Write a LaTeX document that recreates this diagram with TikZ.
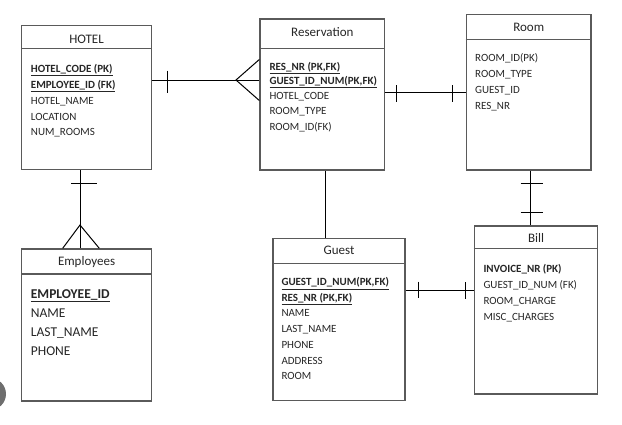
\documentclass[tikz,border=0pt]{standalone}
\usepackage{fontspec}
\setmainfont{Carlito}
\usetikzlibrary{calc}

\definecolor{boxgray}{HTML}{5A5A5A}
\definecolor{textcol}{HTML}{262626}
\definecolor{blobgray}{HTML}{6E6E6E}

\tikzset{
  entity/.style={draw=boxgray, line width=1.4pt, inner sep=0pt, anchor=north west},
  divider/.style={draw=boxgray, line width=1.4pt},
  title/.style={font=\fontsize{13}{15}\selectfont, anchor=base, inner sep=0pt, text=textcol},
  attr/.style={font=\fontsize{11}{13}\selectfont, anchor=base west, inner sep=0pt, text=textcol},
  bigattr/.style={font=\fontsize{13.5}{16}\selectfont, anchor=base west, inner sep=0pt, text=textcol},
  link/.style={draw=black, line width=1pt},
}
\newcommand{\keyattr}[1]{\underline{\textbf{#1}}}

\begin{document}
\begin{tikzpicture}[x=1pt, y=-1pt]
\useasboundingbox (0,0) rectangle (622,424);

% ---------- entity boxes ----------
\node[entity, minimum width=129.7pt, minimum height=144pt] (hotel) at (21,25) {};
\node[entity, minimum width=124.7pt, minimum height=151pt] (res) at (259.3,18.3) {};
\node[entity, minimum width=124.6pt, minimum height=155.3pt] (room) at (465.7,14) {};
\node[entity, minimum width=129.7pt, minimum height=152pt] (emp) at (21,248.3) {};
\node[entity, minimum width=132pt, minimum height=162.3pt] (guest) at (272.3,237.7) {};
\node[entity, minimum width=123.3pt, minimum height=168pt] (bill) at (473.7,225.3) {};

% header dividers
\draw[divider] ($(hotel.north west)+(0,23.3)$) -- ($(hotel.north east)+(0,23.3)$);
\draw[divider] ($(res.north west)+(0,30)$) -- ($(res.north east)+(0,30)$);
\draw[divider] ($(room.north west)+(0,25.3)$) -- ($(room.north east)+(0,25.3)$);
\draw[divider] ($(emp.north west)+(0,25.7)$) -- ($(emp.north east)+(0,25.7)$);
\draw[divider] ($(guest.north west)+(0,26)$) -- ($(guest.north east)+(0,26)$);
\draw[divider] ($(bill.north west)+(0,23.4)$) -- ($(bill.north east)+(0,23.4)$);

% ---------- titles ----------
\node[title] (hotel-t) at ($(hotel.north)+(0,18.3)$) {HOTEL};
\node[title] (res-t) at ($(res.north)+(0,17.8)$) {Reservation};
\node[title] (room-t) at ($(room.north)+(0,17.6)$) {Room};
\node[title] (emp-t) at ($(emp.north)+(0,17.6)$) {Employees};
\node[title] (guest-t) at ($(guest.north)+(0,16.9)$) {Guest};
\node[title] (bill-t) at ($(bill.north)+(0,17.3)$) {Bill};

% ---------- attributes ----------
% HOTEL
\node[attr] (hotel-1) at ($(hotel.north west)+(9.7,47.5)$) {\keyattr{HOTEL\_CODE (PK)}};
\node[attr] (hotel-2) at ($(hotel.north west)+(9.7,63.4)$) {\keyattr{EMPLOYEE\_ID (FK)}};
\node[attr] (hotel-3) at ($(hotel.north west)+(9.7,79.3)$) {HOTEL\_NAME};
\node[attr] (hotel-4) at ($(hotel.north west)+(9.7,95.2)$) {LOCATION};
\node[attr] (hotel-5) at ($(hotel.north west)+(9.7,110.8)$) {NUM\_ROOMS};

% Reservation
\node[attr] (res-1) at ($(res.north west)+(10,51.9)$) {\keyattr{RES\_NR (PK,FK)}};
\node[attr] (res-2) at ($(res.north west)+(10,66.3)$) {\keyattr{GUEST\_ID\_NUM(PK,FK)}};
\node[attr] (res-3) at ($(res.north west)+(10,81.6)$) {HOTEL\_CODE};
\node[attr] (res-4) at ($(res.north west)+(10,95.8)$) {ROOM\_TYPE};
\node[attr] (res-5) at ($(res.north west)+(10,112.1)$) {ROOM\_ID(FK)};

% Room
\node[attr] (room-1) at ($(room.north west)+(9.3,47.8)$) {ROOM\_ID(PK)};
\node[attr] (room-2) at ($(room.north west)+(9.3,63.5)$) {ROOM\_TYPE};
\node[attr] (room-3) at ($(room.north west)+(9.3,79.5)$) {GUEST\_ID};
\node[attr] (room-4) at ($(room.north west)+(9.3,95.2)$) {RES\_NR};

% Employees
\node[bigattr] (emp-1) at ($(emp.north west)+(9.7,50)$) {\keyattr{EMPLOYEE\_ID}};
\node[bigattr] (emp-2) at ($(emp.north west)+(9.7,69.3)$) {NAME};
\node[bigattr] (emp-3) at ($(emp.north west)+(9.7,88.3)$) {LAST\_NAME};
\node[bigattr] (emp-4) at ($(emp.north west)+(9.7,107.6)$) {PHONE};

% Guest
\node[attr] (guest-1) at ($(guest.north west)+(9,48.1)$) {\keyattr{GUEST\_ID\_NUM(PK,FK)}};
\node[attr] (guest-2) at ($(guest.north west)+(9,63.6)$) {\keyattr{RES\_NR (PK,FK)}};
\node[attr] (guest-3) at ($(guest.north west)+(9,79.2)$) {NAME};
\node[attr] (guest-4) at ($(guest.north west)+(9,94.8)$) {LAST\_NAME};
\node[attr] (guest-5) at ($(guest.north west)+(9,110.5)$) {PHONE};
\node[attr] (guest-6) at ($(guest.north west)+(9,126.4)$) {ADDRESS};
\node[attr] (guest-7) at ($(guest.north west)+(9,141.8)$) {ROOM};

% Bill
\node[attr] (bill-1) at ($(bill.north west)+(9.6,47.2)$) {\textbf{INVOICE\_NR (PK)}};
\node[attr] (bill-2) at ($(bill.north west)+(9.6,63.2)$) {GUEST\_ID\_NUM (FK)};
\node[attr] (bill-3) at ($(bill.north west)+(9.6,78.9)$) {ROOM\_CHARGE};
\node[attr] (bill-4) at ($(bill.north west)+(9.6,94.9)$) {MISC\_CHARGES};

% ---------- relationships ----------
% HOTEL -- Reservation (one to many)
\coordinate (hr-a) at ($(hotel.north east)+(0,55)$);
\coordinate (hr-b) at ($(res.north west)+(0,61.7)$);
\draw[link] (hr-a) -- (hr-b);
\draw[link] ($(hr-a)+(15,-9.3)$) -- ($(hr-a)+(15,12.7)$);
\draw[link] ($(hr-b)+(0,-20.5)$) -- ($(hr-b)+(-23.3,0)$) -- ($(hr-b)+(0,20.5)$);

% Reservation -- Room (one to one)
\coordinate (rr-a) at ($(res.north east)+(0,73.7)$);
\coordinate (rr-b) at ($(room.north west)+(0,78)$);
\draw[link] (rr-a) -- (rr-b);
\draw[link] ($(rr-a)+(11,-7)$) -- ($(rr-a)+(11,9.7)$);
\draw[link] ($(rr-b)+(-13.2,-7)$) -- ($(rr-b)+(-13.2,9.7)$);

% Reservation -- Guest
\coordinate (rg-a) at ($(res.south west)+(66,0)$);
\coordinate (rg-b) at ($(guest.north west)+(53,0)$);
\draw[link] (rg-a) -- (rg-b);

% Room -- Bill (one to one)
\coordinate (rb-a) at ($(room.south west)+(64.6,0)$);
\coordinate (rb-b) at ($(bill.north west)+(56.6,0)$);
\draw[link] (rb-a) -- (rb-b);
\draw[link] ($(rb-a)+(-9.6,12.7)$) -- ($(rb-a)+(12.4,12.7)$);
\draw[link] ($(rb-b)+(-9.6,-12.6)$) -- ($(rb-b)+(12.4,-12.6)$);

% Guest -- Bill (one to one)
\coordinate (gb-a) at ($(guest.north east)+(0,53)$);
\coordinate (gb-b) at ($(bill.north west)+(0,65.4)$);
\draw[link] (gb-a) -- (gb-b);
\draw[link] ($(gb-a)+(13,-9)$) -- ($(gb-a)+(13,7.3)$);
\draw[link] ($(gb-b)+(-8,-8.7)$) -- ($(gb-b)+(-8,8.3)$);

% HOTEL -- Employees (one to many)
\coordinate (he-a) at ($(hotel.south west)+(59,0)$);
\coordinate (he-b) at ($(emp.north west)+(59,0)$);
\draw[link] (he-a) -- (he-b);
\draw[link] ($(he-a)+(-9,13)$) -- ($(he-a)+(16.7,13)$);
\draw[link] ($(he-b)+(-17.3,0)$) -- ($(he-b)+(0,-23.3)$) -- ($(he-b)+(19.3,0)$);

% round mark at the left edge
\fill[blobgray] (-10,394) circle (16);
\end{tikzpicture}
\end{document}
